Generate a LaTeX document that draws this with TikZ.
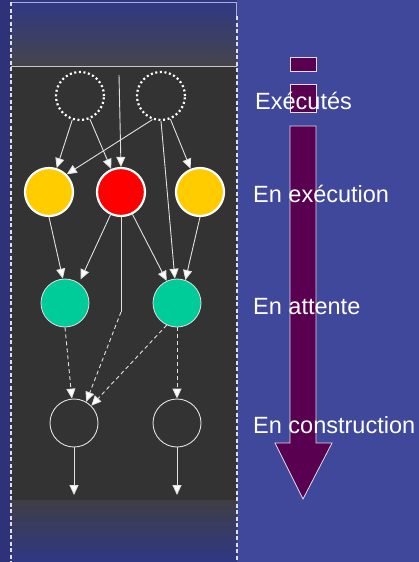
\documentclass[tikz,border=0pt]{standalone}
\usepackage{fontspec}
\setmainfont{Liberation Sans}
\usetikzlibrary{arrows.meta}
\definecolor{bgblue}{RGB}{63,72,155}
\definecolor{stripblue}{RGB}{46,50,120}
\definecolor{paneltop}{RGB}{48,56,132}
\definecolor{panelmid}{RGB}{68,68,78}
\definecolor{panelgray}{RGB}{51,51,51}
\definecolor{panelbot}{RGB}{62,62,68}
\definecolor{taskyellow}{RGB}{255,204,0}
\definecolor{taskred}{RGB}{255,0,0}
\definecolor{taskgreen}{RGB}{0,204,153}
\definecolor{flowpurple}{RGB}{90,0,80}
\definecolor{edgegray}{RGB}{225,225,225}
\tikzset{
  task/.style={circle, minimum size=48pt, inner sep=0pt},
  donetask/.style={task, draw=white, line width=2.2pt, dash pattern=on 2pt off 2.6pt},
  runtask/.style={task, draw=white, line width=2.2pt},
  waittask/.style={task, fill=taskgreen, draw=edgegray, line width=0.8pt},
  newtask/.style={task, draw=edgegray, line width=0.9pt},
  dep/.style={draw=edgegray, line width=0.9pt, -{Triangle[width=9pt,length=10pt,fill=white]}},
  dashdep/.style={dep, dash pattern=on 4pt off 3pt},
  phase/.style={anchor=base west, text=white, inner sep=0pt,
    font=\fontsize{23.5}{28}\selectfont},
  panelborder/.style={draw=white!75!gray, line width=1.1pt, dash pattern=on 4pt off 2.5pt},
  flowpart/.style={fill=flowpurple, draw=white!75!gray, line width=0.8pt}
}
\begin{document}
\begin{tikzpicture}[x=1pt, y=-1pt]
  \useasboundingbox (0,0) rectangle (419,562);
  % backgrounds
  \fill[bgblue] (0,0) rectangle (419,562);
  \fill[stripblue] (0,0) rectangle (11,562);
  % top fade of the panel: blue into grey, in thin bands
  \foreach \i in {0,...,31} {
    \pgfmathsetmacro{\mixa}{100-\i*100/31}
    \fill[paneltop!\mixa!panelmid] (11,{\i*2}) rectangle (237,{\i*2+2.4});
  }
  \fill[panelmid] (11,64) rectangle (237,66);
  \fill[panelgray] (11,66) rectangle (237,500);
  % bottom fade of the panel: grey back into blue
  \foreach \i in {0,...,30} {
    \pgfmathsetmacro{\mixb}{\i*100/30}
    \fill[paneltop!\mixb!panelbot] (11,{500+\i*2}) rectangle (237,{500+\i*2+2.4});
  }
  \draw[white!55!gray, line width=1pt] (11,66) -- (237,66);
  \draw[white!60!paneltop, line width=0.8pt] (11,2) -- (236,2) -- (236,16);
  \draw[panelborder] (11,2) -- (11,562);
  \draw[panelborder] (237,16) -- (237,562);

  % progress arrow
  \path[flowpart] (290,57) rectangle (316,71);
  \path[flowpart] (290,84) rectangle (316,112);
  \path[flowpart] (290,126) -- (316,126) -- (316,443) -- (332,443) -- (303,499)
    -- (275,443) -- (290,443) -- cycle;

  % phase labels
  \node[phase] (lDone) at (255,109) {Exécutés};
  \node[phase] (lRun) at (253,202) {En exécution};
  \node[phase] (lWait) at (253,314) {En attente};
  \node[phase] (lNew) at (253,433) {En construction};

  % task nodes
  \node[donetask] (dL) at (80,96) {};
  \node[donetask] (dR) at (161,96) {};
  \node[runtask, fill=taskyellow] (yL) at (49,192) {};
  \node[runtask, fill=taskred] (red) at (121,192) {};
  \node[runtask, fill=taskyellow] (yR) at (200,192) {};
  \node[waittask] (gL) at (65,303) {};
  \node[waittask] (gR) at (177,303) {};
  \node[newtask] (eL) at (74,423) {};
  \node[newtask] (eR) at (177,423) {};

  \coordinate (inRed) at (119,75);
  \coordinate (bend) at (121,312);
  \coordinate (outL) at (74,495);
  \coordinate (outR) at (177,495);

  % dependencies
  \draw[dep] (dL) -- (yL);
  \draw[dep] (dL) -- (red);
  \draw[dep] (inRed) -- (red.north);
  \draw[dep] (dR.250) -- (yL.45);
  \draw[dep] (dR) -- (yR);
  \draw[dep] (dR.south) -- (gR.95);
  \draw[dep] (yL.south) -- (gL.95);
  \draw[dep, shorten >=4pt] (red) -- (gL.55);
  \draw[dep] (red) -- (gR.115);
  \draw[dep] (yR.south) -- (gR.70);
  \draw[draw=edgegray, line width=0.9pt] (red.south) -- (bend);
  \draw[dashdep] (bend) -- (eL.60);
  \draw[dashdep] (gL.south) -- (eL.95);
  \draw[dashdep] (gR.245) -- (eL.45);
  \draw[dashdep] (gR.south) -- (eR.north);
  \draw[dep] (eL.south) -- (outL);
  \draw[dep] (eR.south) -- (outR);
\end{tikzpicture}
\end{document}
